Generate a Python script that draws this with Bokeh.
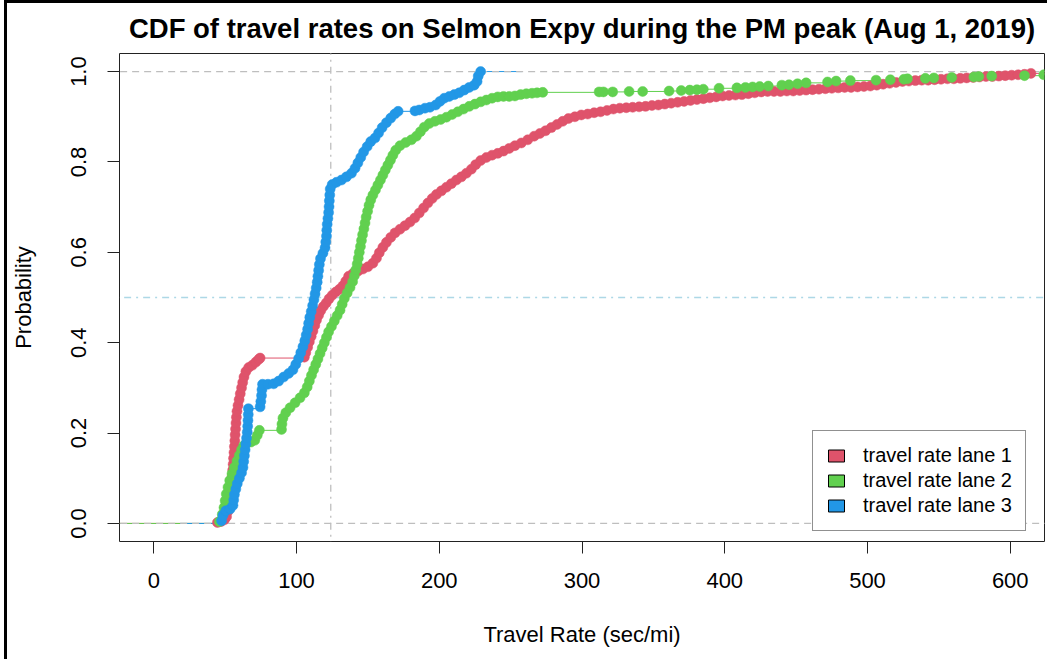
from bokeh.plotting import figure
from bokeh.models import FixedTicker, PrintfTickFormatter, Legend, LegendItem, Range1d
from bokeh.embed import file_html
from bokeh.resources import INLINE
import numpy as np

TITLE = "CDF of travel rates on Selmon Expy during the PM peak (Aug 1, 2019)"
X_LABEL = "Travel Rate (sec/mi)"
Y_LABEL = "Probability"
x_ticks = [0, 100, 200, 300, 400, 500, 600]
y_ticks = [0.0, 0.2, 0.4, 0.6, 0.8, 1.0]
x_lim = (0, 600)
y_lim = (0, 1)

lane_names = ["travel rate lane 1", "travel rate lane 2", "travel rate lane 3"]
lane_colors = ["#DF536B", "#61D04F", "#2297E6"]

# ECDF knots: travel rate (sec/mi) and cumulative probability
lane1_rate = [44.6, 47.0, 49.5, 51.0, 52.0, 52.8, 53.3, 53.8, 54.2, 54.6, 55.0, 55.3, 55.6, 55.9, 56.2,
              56.5, 56.8, 57.0, 57.3, 57.6, 57.9, 58.3, 59.0, 59.8, 60.6, 61.5, 62.3, 63.2, 64.5, 66.5,
              69.0, 71.5, 73.5, 74.5,
              105.5, 106.5, 107.8, 109.0, 110.3, 111.5, 112.8, 114.0, 115.5, 117.0, 118.8, 120.8, 122.8,
              125.0, 127.5, 130.0, 132.5, 134.5, 136.5, 139.5, 143.0, 146.5, 150.0, 153.5, 156.0, 158.0,
              160.5, 163.0, 166.0, 169.0, 172.5, 176.0, 179.5, 182.8, 186.0, 189.0, 192.0, 195.0, 198.0,
              201.5, 205.0, 208.5, 212.0, 215.5, 219.0, 222.5, 225.5, 229.0, 233.0, 237.0, 241.0, 245.0,
              249.0, 253.0, 257.5, 262.0, 266.5, 270.5, 274.5, 278.5, 282.5, 286.5, 290.5, 295.0, 299.5,
              304.0, 308.5, 313.0, 317.5, 322.0, 326.5, 331.0, 335.5, 340.0, 344.5, 349.0, 353.5, 358.0,
              362.5, 367.0, 371.5, 376.0, 380.5, 385.0, 389.5, 394.0, 398.5, 403.0, 407.5, 412.0, 416.5,
              421.0, 425.5, 430.0, 434.5, 439.0, 443.5, 448.0, 452.5, 457.0, 461.5, 466.0, 470.5, 475.0,
              479.5, 484.0, 488.5, 493.0, 497.5, 502.0, 506.5, 511.0, 515.5, 520.0, 524.5, 529.0, 533.5,
              538.0, 542.5, 547.0, 551.5, 556.0, 560.5, 565.0, 569.5, 574.0, 578.5, 583.0, 587.5, 592.0,
              596.5, 601.0, 605.5, 610.0, 614.5, 660.0]
lane1_cdf = [0.002, 0.004, 0.008, 0.015, 0.027, 0.040, 0.053, 0.066, 0.079, 0.092, 0.105, 0.118, 0.131, 0.144, 0.157,
             0.170, 0.183, 0.196, 0.209, 0.222, 0.235, 0.248, 0.261, 0.274, 0.287, 0.300, 0.312, 0.324, 0.336, 0.345,
             0.350, 0.357, 0.363, 0.366,
             0.368, 0.378, 0.390, 0.402, 0.414, 0.426, 0.438, 0.450, 0.461, 0.471, 0.480, 0.488, 0.497,
             0.505, 0.512, 0.518, 0.526, 0.536, 0.547, 0.553, 0.558, 0.563, 0.568, 0.576, 0.587, 0.599,
             0.611, 0.622, 0.633, 0.643, 0.651, 0.659, 0.667, 0.676, 0.687, 0.698, 0.709, 0.719, 0.728,
             0.736, 0.744, 0.752, 0.760, 0.767, 0.775, 0.784, 0.794, 0.803, 0.810, 0.815, 0.819, 0.824,
             0.830, 0.836, 0.842, 0.849, 0.857, 0.863, 0.869, 0.876, 0.883, 0.890, 0.896, 0.900, 0.904,
             0.906, 0.909, 0.911, 0.914, 0.917, 0.919, 0.920, 0.921, 0.922, 0.923, 0.925, 0.926, 0.928,
             0.930, 0.932, 0.934, 0.936, 0.938, 0.940, 0.942, 0.944, 0.946, 0.947, 0.948, 0.949, 0.951,
             0.953, 0.955, 0.956, 0.956, 0.956, 0.957, 0.957, 0.958, 0.959, 0.960, 0.961, 0.962, 0.963,
             0.964, 0.965, 0.965, 0.966, 0.967, 0.968, 0.970, 0.972, 0.974, 0.976, 0.978, 0.979, 0.980,
             0.981, 0.981, 0.982, 0.983, 0.984, 0.984, 0.985, 0.986, 0.987, 0.988, 0.989, 0.989, 0.990,
             0.991, 0.992, 0.993, 0.994, 0.996, 1.000]

lane2_rate = [46.0, 48.0, 49.2, 50.0, 50.8, 52.0, 53.2, 54.8, 56.5, 58.3, 60.0, 61.5, 63.0, 65.0, 68.0,
              70.8, 72.5, 74.0,
              89.5, 89.8, 90.5, 92.5, 95.5, 99.0, 102.5, 105.5, 107.5, 109.0, 110.5, 112.0, 113.5, 115.0,
              116.5, 118.0, 119.5, 121.0, 122.5, 124.5, 126.5, 128.5, 130.5, 132.0, 133.5, 135.5, 137.5,
              139.3, 140.5, 141.5, 142.5, 143.3, 144.0, 144.8, 145.5, 146.3, 147.2, 148.0, 148.8, 149.8,
              150.8, 152.0, 153.5, 155.3, 157.0, 158.8, 160.5, 162.2, 164.0, 165.8, 167.5, 169.5, 172.5,
              176.5, 180.5, 184.0, 186.8, 189.5, 193.0, 197.0, 201.0, 205.0, 209.0, 213.0, 217.0, 221.0,
              225.0, 229.0, 233.0, 237.0, 241.0, 245.0, 249.0, 253.0, 257.0, 261.0, 265.0, 268.5, 272.5,
              312.0, 315.0, 321.5, 333.0, 342.5,
              361.0, 369.5, 375.5, 380.5, 385.0, 396.0, 408.5, 414.5, 419.5, 424.5, 430.5, 440.0, 445.0,
              451.0, 457.0, 472.0, 478.0, 488.0, 506.0, 516.0, 525.5, 528.0, 540.5, 546.5, 559.0, 574.5,
              578.0, 587.0, 610.0, 623.5, 680.0]
lane2_cdf = [0.004, 0.020, 0.035, 0.050, 0.065, 0.080, 0.095, 0.110, 0.124, 0.138, 0.151, 0.163, 0.172, 0.178, 0.180,
             0.184, 0.195, 0.206,
             0.208, 0.220, 0.233, 0.245, 0.256, 0.267, 0.278, 0.289, 0.302, 0.315, 0.328, 0.340, 0.352, 0.364,
             0.376, 0.388, 0.400, 0.412, 0.424, 0.436, 0.448, 0.460, 0.472, 0.485, 0.498, 0.510, 0.522,
             0.535, 0.548, 0.561, 0.574, 0.587, 0.600, 0.613, 0.626, 0.639, 0.652, 0.665, 0.678, 0.691,
             0.704, 0.716, 0.727, 0.738, 0.749, 0.760, 0.771, 0.782, 0.793, 0.804, 0.815, 0.826, 0.836,
             0.843, 0.849, 0.857, 0.867, 0.877, 0.885, 0.890, 0.894, 0.899, 0.905, 0.911, 0.917, 0.923,
             0.928, 0.933, 0.937, 0.941, 0.944, 0.945, 0.945, 0.946, 0.949, 0.951, 0.952, 0.953, 0.954,
             0.955, 0.955, 0.955, 0.956, 0.956,
             0.957, 0.958, 0.959, 0.960, 0.961, 0.963, 0.964, 0.965, 0.966, 0.967, 0.968, 0.970, 0.971,
             0.973, 0.975, 0.977, 0.979, 0.980, 0.981, 0.982, 0.983, 0.984, 0.985, 0.986, 0.987, 0.988,
             0.989, 0.990, 0.991, 0.993, 1.000]

lane3_rate = [47.5, 48.5, 50.5, 53.5, 55.5, 56.0, 56.5, 57.5, 58.5, 60.0, 61.5, 62.5, 63.0, 63.5, 64.0,
              64.5, 65.0, 65.5, 65.8, 66.0, 66.2, 66.3,
              74.5, 75.0, 75.5, 75.8, 76.2, 80.0, 84.0, 87.5, 91.0, 94.5, 97.5, 99.5, 101.5, 103.0,
              104.5, 105.8, 106.8, 107.8, 108.5, 109.3, 110.3, 111.3, 112.2, 113.0, 113.8, 114.5, 115.0,
              115.5, 116.0, 116.8, 118.5, 120.0, 120.5, 121.0, 121.2, 121.5, 122.0, 122.5, 122.8, 123.0,
              123.3, 123.6, 125.0, 128.0, 131.5, 135.0, 138.5, 141.0, 143.0, 145.0, 147.0, 149.5, 152.0,
              155.0, 157.5, 160.0, 163.0, 166.0, 168.8, 171.2,
              183.0, 186.0, 190.0, 193.5, 197.5, 200.5, 203.5, 207.0, 210.5, 214.0, 217.5, 221.0, 224.5,
              226.5, 227.3, 229.0]
lane3_cdf = [0.006, 0.018, 0.028, 0.032, 0.040, 0.052, 0.064, 0.076, 0.088, 0.100, 0.112, 0.124, 0.137, 0.150, 0.163,
             0.176, 0.189, 0.202, 0.215, 0.228, 0.241, 0.254,
             0.258, 0.270, 0.283, 0.296, 0.308, 0.308, 0.309, 0.315, 0.324, 0.332, 0.340, 0.352, 0.365, 0.378,
             0.391, 0.404, 0.417, 0.430, 0.443, 0.456, 0.469, 0.482, 0.495, 0.508, 0.521, 0.534, 0.547,
             0.560, 0.573, 0.586, 0.598, 0.610, 0.623, 0.636, 0.649, 0.662, 0.675, 0.688, 0.701, 0.714,
             0.727, 0.740, 0.750, 0.755, 0.760, 0.767, 0.775, 0.786, 0.798, 0.810, 0.822, 0.834, 0.845,
             0.853, 0.864, 0.876, 0.887, 0.897, 0.906, 0.912,
             0.913, 0.915, 0.919, 0.921, 0.926, 0.934, 0.941, 0.945, 0.949, 0.953, 0.959, 0.965, 0.970,
             0.978, 0.990, 1.000]

ref_prob_lines = [0.0, 1.0]
median_prob = 0.5
ref_rate = 124

lanes = [(lane1_rate, lane1_cdf), (lane2_rate, lane2_cdf), (lane3_rate, lane3_cdf)]

# R-style axis extension (4%)
xr = (x_lim[0] - 0.04 * (x_lim[1] - x_lim[0]), x_lim[1] + 0.04 * (x_lim[1] - x_lim[0]))
yr = (y_lim[0] - 0.04 * (y_lim[1] - y_lim[0]), y_lim[1] + 0.04 * (y_lim[1] - y_lim[0]))

FONT = "Liberation Sans"

p = figure(frame_width=925, frame_height=488, min_border_left=111, min_border_right=4,
           min_border_top=53, min_border_bottom=118,
           x_range=Range1d(*xr), y_range=Range1d(*yr),
           output_backend="svg", toolbar_location=None,
           styles={"margin-left": "4px", "border-left": "3px solid black",
                   "box-shadow": "inset 0 3px 0 0 black", "background-color": "white"})

p.title.text = TITLE
p.title.align = "center"
p.title.text_font = FONT
p.title.text_font_size = "27.5px"
p.title.text_font_style = "bold"
p.title.text_color = "black"
p.title.standoff = 19

p.background_fill_color = "white"
p.border_fill_color = "white"
p.border_fill_alpha = 0.0
p.outline_line_color = "#222222"
p.outline_line_width = 1
p.grid.visible = False

for ax in (p.xaxis[0], p.yaxis[0]):
    ax.axis_line_color = None
    ax.major_tick_line_color = "#222222"
    ax.major_tick_out = 12
    ax.major_tick_in = 0
    ax.minor_tick_line_color = None
    ax.major_label_text_font = FONT
    ax.major_label_text_font_size = "22px"
    ax.major_label_text_color = "black"
    ax.axis_label_text_font = FONT
    ax.axis_label_text_font_size = "22px"
    ax.axis_label_text_font_style = "normal"
    ax.axis_label_text_color = "black"

p.xaxis.ticker = FixedTicker(ticks=x_ticks)
p.yaxis.ticker = FixedTicker(ticks=y_ticks)
p.yaxis.formatter = PrintfTickFormatter(format="%.1f")
p.yaxis.major_label_orientation = "vertical"
p.xaxis.axis_label = X_LABEL
p.yaxis.axis_label = Y_LABEL
p.xaxis.major_label_standoff = 19
p.xaxis.axis_label_standoff = 31
p.yaxis.major_label_standoff = 21
p.yaxis.axis_label_standoff = 33

# step lines (R plot.ecdf style, no verticals)
for i, ((rate, cdf), col) in enumerate(zip(lanes, lane_colors)):
    r = np.array(rate)
    c = np.array(cdf)
    if i == 0:
        dr = x_lim[1] - x_lim[0]
    else:
        dr = max(0.08 * (r.max() - r.min()), float(np.median(np.diff(r))))
    x0 = np.concatenate([[r.min() - 2 * dr], r])
    x1 = np.concatenate([r, [r.max() + 2 * dr]])
    yy = np.concatenate([[0.0], c])
    p.segment(x0=x0, y0=yy, x1=x1, y1=yy, line_color=col, line_width=1)

# reference lines
ext = (xr[0] - 50, xr[1] + 50)
p.segment(x0=[ext[0]] * len(ref_prob_lines), x1=[ext[1]] * len(ref_prob_lines),
          y0=ref_prob_lines, y1=ref_prob_lines, line_color="#BEBEBE", line_width=1.3, line_dash="7 5")
p.segment(x0=[ext[0]], x1=[ext[1]], y0=[median_prob], y1=[median_prob],
          line_color="#ADD8E6", line_width=1.3, line_dash="7 5 2 5")
p.segment(x0=[ref_rate], x1=[ref_rate], y0=[yr[0] - 0.1], y1=[yr[1] + 0.1],
          line_color="#BEBEBE", line_width=1.3, line_dash="7 5 2 5")

# points
for (rate, cdf), col in zip(lanes, lane_colors):
    p.scatter(x=rate, y=cdf, size=10, fill_color=col, line_color=col, line_width=0.5)

# legend (swatch renderers carry no visible data)
items = []
for name, col in zip(lane_names, lane_colors):
    rr = p.quad(left=[np.nan], right=[np.nan], top=[np.nan], bottom=[np.nan],
                fill_color=col, line_color="black", line_width=1)
    items.append(LegendItem(label=name, renderers=[rr]))
legend = Legend(items=items, location=(693, 10), padding=13, spacing=2, margin=0,
                glyph_width=20, glyph_height=15, label_height=20, label_standoff=17,
                label_text_font=FONT, label_text_font_size="20px", label_text_color="black",
                border_line_color="#222222", border_line_width=1,
                background_fill_color="white", background_fill_alpha=1.0)
p.add_layout(legend)

open("out.html", "w").write(file_html(p, INLINE))
